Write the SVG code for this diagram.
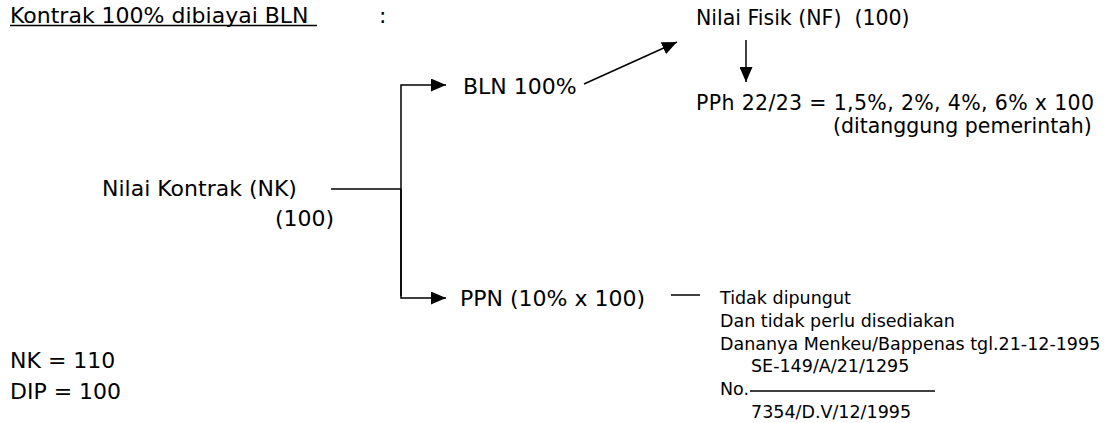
<svg xmlns="http://www.w3.org/2000/svg" width="1114" height="423" viewBox="0 0 1114 423">
  <style>
    text { font-family: "DejaVu Sans", Verdana, sans-serif; fill: #000; }
    .big { font-size: 22px; }
    .mid { font-size: 20.5px; }
    .small { font-size: 17.5px; }
    .ln { stroke: #000; stroke-width: 1.5; fill: none; }
  </style>
  <defs>
    <marker id="arrow" viewBox="0 0 15 13" refX="15" refY="6.5" markerWidth="15" markerHeight="13" markerUnits="userSpaceOnUse" orient="auto">
      <path d="M0,0 L15,6.5 L0,13 Z" fill="#000"/>
    </marker>
  </defs>

  <!-- heading -->
  <g id="heading">
    <text class="big" x="10" y="23">Kontrak 100% dibiayai BLN</text>
    <line class="ln" x1="10" y1="25.5" x2="317" y2="25.5"/>
    <text class="big" x="379" y="23">:</text>
  </g>

  <!-- nodes -->
  <g id="node-nk">
    <text class="big" x="102" y="196">Nilai Kontrak (NK)</text>
    <text class="big" x="275" y="226">(100)</text>
  </g>
  <g id="node-bln">
    <text class="big" x="463" y="94">BLN 100%</text>
  </g>
  <g id="node-ppn">
    <text class="big" x="460" y="306">PPN (10% x 100)</text>
  </g>
  <g id="node-nf">
    <text class="mid" x="696" y="25" xml:space="preserve">Nilai Fisik (NF)  (100)</text>
  </g>
  <g id="node-pph">
    <text class="mid" x="696" y="110" textLength="398" lengthAdjust="spacing">PPh 22/23 = 1,5%, 2%, 4%, 6% x 100</text>
    <text class="mid" x="833" y="133">(ditanggung pemerintah)</text>
  </g>
  <g id="node-note">
    <text class="small" x="720" y="304">Tidak dipungut</text>
    <text class="small" x="720" y="327">Dan tidak perlu disediakan</text>
    <text class="small" x="720" y="350">Dananya Menkeu/Bappenas tgl.21-12-1995</text>
    <text class="small" x="751" y="372">SE-149/A/21/1295</text>
    <text class="small" x="720" y="395">No.</text>
    <line class="ln" x1="750" y1="391" x2="935" y2="391"/>
    <text class="small" x="751" y="418">7354/D.V/12/1995</text>
  </g>
  <g id="node-totals">
    <text class="big" x="10" y="368">NK = 110</text>
    <text class="big" x="10" y="399">DIP = 100</text>
  </g>

  <!-- connectors -->
  <g id="connectors">
    <line class="ln" x1="331" y1="189" x2="401" y2="189"/>
    <path class="ln" d="M401,296 L401,85 L446,85" marker-end="url(#arrow)"/>
    <path class="ln" d="M401,189 L401,298 L446,298" marker-end="url(#arrow)"/>
    <line class="ln" x1="584" y1="84" x2="677" y2="42" marker-end="url(#arrow)"/>
    <line class="ln" x1="746" y1="40" x2="746" y2="82" marker-end="url(#arrow)"/>
    <line class="ln" x1="671" y1="295" x2="700" y2="295"/>
  </g>
</svg>
